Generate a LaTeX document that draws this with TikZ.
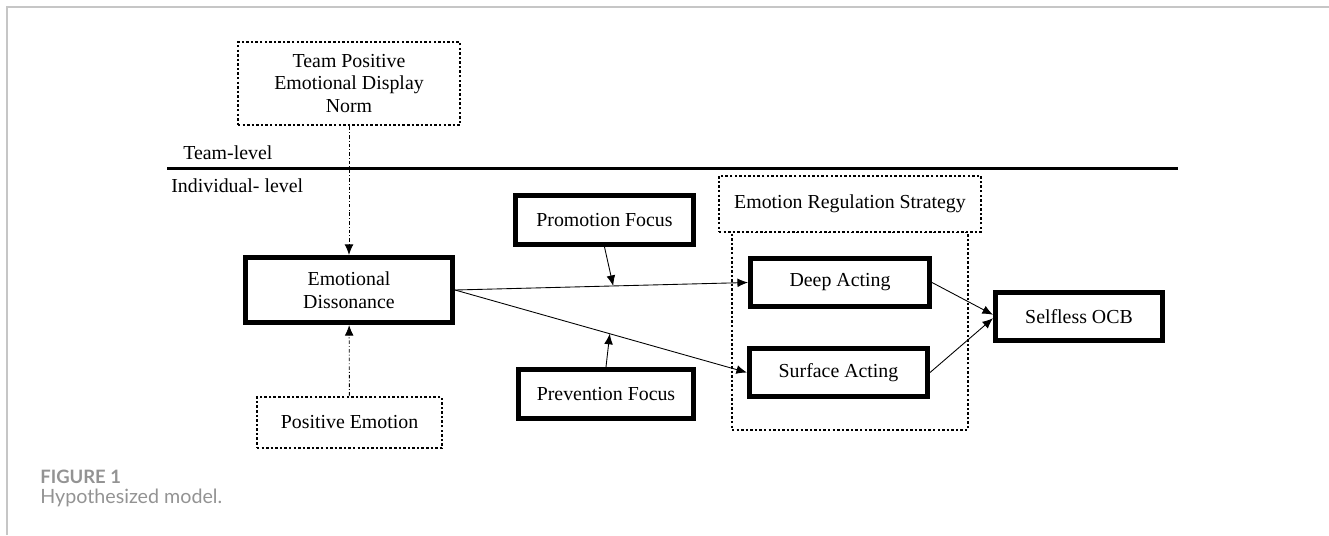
\documentclass[tikz,border=0pt]{standalone}
\usepackage{fontspec}
\setmainfont{Liberation Serif}
\newfontfamily\captionfont{Lato}
\usetikzlibrary{arrows.meta,calc}

\begin{document}
\begin{tikzpicture}[x=0.02cm, y=-0.02cm,
        box/.style={rectangle, draw=black, line width=2.9pt, inner sep=1pt, font=\fontsize{11.3}{12.8}\selectfont, align=center},
        dotbox/.style={rectangle, draw=black, line width=1.6pt, dash pattern=on 1.4pt off 1.2pt, inner sep=1pt, font=\fontsize{11.3}{12.8}\selectfont, align=center},
        arrow/.style={-{Latex[length=6pt,width=5pt]}, line width=0.5pt},
        dasharrow/.style={arrow, dash pattern=on 2pt off 1.2pt on 0.5pt off 1.2pt},
        level/.style={font=\fontsize{11.3}{12.8}\selectfont, anchor=west, inner sep=0pt},
      ]
      \useasboundingbox (0,0) rectangle (1329,535);
      % frame of the page
      \draw [gray!45, line width=0.8pt] (7,535) -- (7,7) -- (1329,7);
      % team level
      \node [dotbox, minimum width=4.44cm, minimum height=1.66cm] (norm) at (349,83.5) {Team Positive\\Emotional Display\\Norm};
      \node [level] (teamlvl) at (183,153) {Team-level};
      \node [level] (indivlvl) at (171,186) {Individual- level};
      \coordinate (divleft) at (167,168);
      \coordinate (divright) at (1178,168);
      \draw [line width=1.7pt] (divleft) -- (divright);
      % individual level
      \node [box, minimum width=4.14cm, minimum height=1.3cm] (dissonance) at (349,290) {Emotional\\Dissonance};
      \node [dotbox, minimum width=3.7cm, minimum height=1.02cm] (posemo) at (349.5,422.5) {Positive Emotion};
      \node [box, minimum width=3.56cm, minimum height=0.98cm] (promotion) at (604.5,220) {Promotion Focus};
      \node [box, minimum width=3.5cm, minimum height=0.98cm] (prevention) at (606,394) {Prevention Focus};
      \node [dotbox, minimum width=4.72cm, minimum height=3.96cm] (group) at (850,331) {};
      \node [dotbox, fill=white, minimum width=5.24cm, minimum height=1.12cm] (strategy) at (850,204) {Emotion Regulation Strategy};
      \node [box, minimum width=3.58cm, minimum height=0.96cm] (deep) at (840,282.5) {Deep Acting};
      \node [box, minimum width=3.56cm, minimum height=0.96cm] (surface) at (838.5,372.5) {Surface Acting};
      \node [box, minimum width=3.34cm, minimum height=0.96cm] (ocb) at (1079,316.5) {Selfless OCB};
      \coordinate (deepmid) at ($(dissonance.east)!0.54!(deep.west)$);
      \coordinate (surfmid) at ($(dissonance.east)!0.53!(surface.west)$);
      \draw [dasharrow] (norm) -- (dissonance);
      \draw [dasharrow] (posemo) -- (dissonance);
      \draw [arrow] (dissonance.east) -- (deep.west);
      \draw [arrow] (dissonance.east) -- (surface.west);
      \draw [arrow] (promotion.south) -- (deepmid);
      \draw [arrow] (prevention.north) -- (surfmid);
      \draw [arrow] (deep.east) -- ([yshift=1pt]ocb.west);
      \draw [arrow] (surface.east) -- ([yshift=-1pt]ocb.west);
      % caption
      \node [anchor=base west, inner sep=0pt, text=gray!85, font=\captionfont\bfseries\fontsize{10.5}{12}\selectfont] (fig) at (40,483) {FIGURE 1};
      \node [anchor=base west, inner sep=0pt, text=gray!85, font=\captionfont\fontsize{11.2}{13}\selectfont] (capt) at (40,503) {Hypothesized model.};
    \end{tikzpicture}
\end{document}
